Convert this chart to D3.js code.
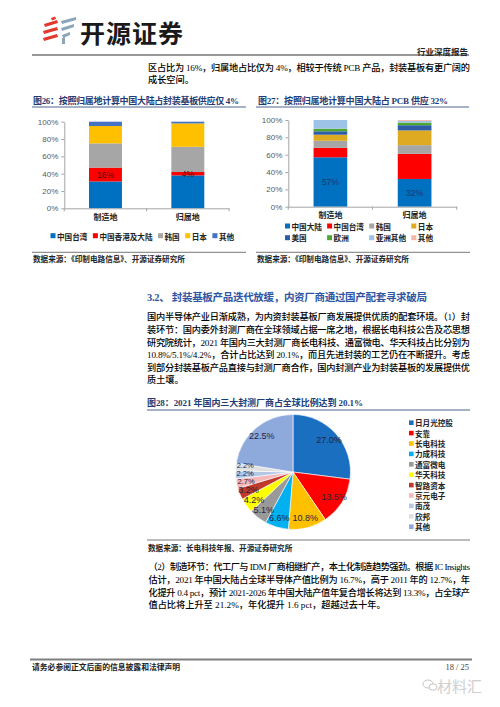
<!DOCTYPE html>
<html><head><meta charset="utf-8">
<script src="https://cdn.jsdelivr.net/npm/d3@7"></script>
<style>body{margin:0;background:#fff}svg{display:block}</style>
</head><body>
<script>
// ---------------- DATA ----------------
const fig26Categories = ["制造地", "归属地"];
const fig26Series = ["中国台湾", "中国香港及大陆", "韩国", "日本", "其他"];
const fig26Manufacture = [31, 16, 28, 20, 5];
const fig26Ownership = [38, 4, 29, 27, 2];
const fig26Labels = ["16%", "4%"];

const fig27Categories = ["制造地", "归属地"];
const fig27Series = ["中国大陆", "中国台湾", "韩国", "日本", "美国", "欧洲", "亚洲其他", "其他"];
const fig27Manufacture = [57, 11, 8, 7, 4, 3, 10, 0];
const fig27Ownership = [32, 29, 10, 17, 6, 3, 2, 1];
const fig27Labels = ["57%", "32%"];

const yTickValues = [0, 20, 40, 60, 80, 100];

const fig28Companies = ["日月光控股", "安靠", "长电科技", "力成科技", "通富微电", "华天科技", "智路资本", "京元电子", "南茂", "欣邦", "其他"];
const fig28Shares = [27.0, 13.5, 10.8, 6.6, 5.1, 4.2, 3.2, 2.7, 2.2, 2.2, 22.5];

const introLines = ["区占比为 16%，归属地占比仅为 4%，相较于传统 PCB 产品，封装基板有更广阔的", "成长空间。"];
const para1Lines = [
  "国内半导体产业日渐成熟，为内资封装基板厂商发展提供优质的配套环境。（1）封",
  "装环节：国内委外封测厂商在全球领域占据一席之地，根据长电科技公告及芯思想",
  "研究院统计，2021 年国内三大封测厂商长电科技、通富微电、华天科技占比分别为",
  "10.8%/5.1%/4.2%，合计占比达到 20.1%，而且先进封装的工艺仍在不断提升。考虑",
  "到部分封装基板产品直接与封测厂商合作，国内封测产业为封装基板的发展提供优",
  "质土壤。"
];
const para2Lines = [
  "（2）制造环节：代工厂与 IDM 厂商相继扩产，本土化制造趋势强劲。根据 IC Insights",
  "估计，2021 年中国大陆占全球半导体产值比例为 16.7%，高于 2011 年的 12.7%，年",
  "化提升 0.4 pct，预计 2021-2026 年中国大陆产值年复合增长将达到 13.3%，占全球产",
  "值占比将上升至 21.2%，年化提升 1.6 pct，超越过去十年。"
];

// ---------------- STYLES ----------------
const BODY = "'Liberation Serif','Noto Sans CJK SC',serif";
const SANS = "'Liberation Sans','Noto Sans CJK SC',sans-serif";
const CJK = "'Noto Sans CJK SC',sans-serif";
const TITLE_BLUE = "#1F3C74";
const fig26Colors = ["#0070C0", "#FF0000", "#A6A6A6", "#FFC000", "#4472C4"];
const fig27Colors = ["#0070C0", "#FF0000", "#A6A6A6", "#DDAA22", "#2E5DA8", "#4EA72E", "#9DC3E6", "#F4B6A8"];
const fig28Colors = ["#1B6FC0", "#FF0000", "#FFC000", "#00B0F0", "#999999", "#FFFF00", "#C0392B", "#F4B8B8", "#B4C7E7", "#E0E0E0", "#8EA9DB"];

const svg = d3.select("body").append("svg").attr("width", 500).attr("height", 707);

function txt(x, y, s, o = {}) {
  const t = svg.append("text").attr("x", x).attr("y", y).text(s)
    .attr("font-size", o.size || 9.2)
    .attr("font-family", o.family || BODY)
    .attr("font-weight", o.weight || "500")
    .attr("fill", o.fill || "#000")
    .attr("dominant-baseline", "central")
    .attr("text-anchor", o.anchor || "start");
  if (o.width) t.attr("textLength", o.width).attr("lengthAdjust", "spacing");
  return t;
}
function hline(x1, x2, y, c, w) {
  svg.append("line").attr("x1", x1).attr("x2", x2).attr("y1", y).attr("y2", y)
    .attr("stroke", c).attr("stroke-width", w);
}

// ---------------- HEADER ----------------
const logo = svg.append("g");
const red = "#E2392D", steel = "#8BA6BA";
[[44,24,57,20,58,23,45,27],[43,31,57,27,58,30,44,34],[43,38,57,34,58,37,44,41]].forEach(p =>
  logo.append("polygon").attr("points", p.join(",")).attr("fill", red));
logo.append("polygon").attr("points", [51,18,55,16.5,56,19,52,20.5].join(",")).attr("fill", red);
[[61,21,76,17,76,20,62,24],[61,28,74,24,74,27,62,31],[62,35,70,32,70,35,63,38]].forEach(p =>
  logo.append("polygon").attr("points", p.join(",")).attr("fill", steel));
logo.append("polygon").attr("points", [62,38,65,37,65,44,62,44].join(",")).attr("fill", steel);
txt(80, 32, "开源证券", {size: 25, family: CJK, weight: "bold", fill: "#1a1a1a", width: 103});
txt(468, 50.5, "行业深度报告", {size: 8.5, family: CJK, weight: "bold", anchor: "end", fill: "#222"});
hline(32, 469, 55, "#333", 1);

introLines.forEach((l, i) => txt(148, 67.5 + i * 12.5, l, {width: i < introLines.length - 1 ? 322 : null}));

// ---------------- STACKED BAR CHARTS ----------------
function stackedChart(cfg) {
  const rows = cfg.cats.map((c, i) => {
    const o = {cat: c};
    cfg.series.forEach((s, j) => o[s] = cfg.values[i][j]);
    return o;
  });
  const stacked = d3.stack().keys(cfg.series)(rows);
  const x = d3.scaleBand().domain(cfg.cats).range([cfg.x0, cfg.x1]).paddingInner(0.6).paddingOuter(0.3);
  const y = d3.scaleLinear().domain([0, 100]).range([cfg.yBot, cfg.yTop]);
  const g = svg.append("g");
  g.selectAll("g.layer").data(stacked).join("g").attr("fill", (d, i) => cfg.colors[i])
    .selectAll("rect").data(d => d).join("rect")
    .attr("x", d => x(d.data.cat)).attr("width", x.bandwidth())
    .attr("y", d => y(d[1])).attr("height", d => y(d[0]) - y(d[1]));
  const ya = g.append("g").attr("transform", `translate(${cfg.x0},0)`)
    .call(d3.axisLeft(y).tickValues(yTickValues).tickFormat(d => d + "%").tickSizeInner(3).tickSizeOuter(0).tickPadding(3));
  ya.selectAll("path,line").attr("stroke", "#A6A6A6");
  ya.selectAll("text").attr("font-family", SANS).attr("font-size", 8).attr("fill", "#595959");
  const xa = g.append("g").attr("transform", `translate(0,${cfg.yBot})`)
    .call(d3.axisBottom(x).tickSize(0).tickPadding(6).tickSizeOuter(0));
  xa.select("path").attr("stroke", "#A6A6A6");
  xa.selectAll("text").attr("font-family", CJK).attr("font-size", 8).attr("font-weight", "bold").attr("fill", "#222");
  const bounds = [cfg.x0, ...cfg.cats.map(c => x(c) + x.bandwidth() / 2 + x.step() / 2)];
  g.selectAll("line.bt").data(bounds).join("line").attr("class", "bt")
    .attr("x1", d => d).attr("x2", d => d).attr("y1", cfg.yBot).attr("y2", cfg.yBot + 3).attr("stroke", "#A6A6A6");
  cfg.cats.forEach((c, i) => {
    const seg = stacked[cfg.labelIdx][i];
    g.append("text").attr("x", x(c) + x.bandwidth() / 2).attr("y", y((seg[0] + seg[1]) / 2))
      .attr("text-anchor", "middle").attr("dominant-baseline", "central")
      .attr("font-family", SANS).attr("font-size", 8.5).attr("fill", cfg.labelFill).text(cfg.labels[i]);
  });
  return {x, y};
}

// Figure 26
txt(33, 101, "图26：按照归属地计算中国大陆占封装基板供应仅 4%", {size: 9, weight: "bold", fill: TITLE_BLUE, width: 206});
hline(32, 246, 107, "#1F3C74", 0.8);
stackedChart({cats: fig26Categories, series: fig26Series, values: [fig26Manufacture, fig26Ownership],
  x0: 64.3, x1: 229, yTop: 121.7, yBot: 208.3, colors: fig26Colors, labelIdx: 1, labels: fig26Labels, labelFill: "#3a1010"});
(function () {
  let cx = 50.5;
  fig26Series.forEach((s, i) => {
    svg.append("rect").attr("x", cx).attr("y", 233.2).attr("width", 5).attr("height", 5).attr("fill", fig26Colors[i]);
    const t = txt(cx + 6.5, 236, s, {size: 7.6, family: CJK, weight: "bold", fill: "#222"});
    cx += 6.5 + t.node().getComputedTextLength() + 5.5;
  });
})();
hline(32, 246, 252.3, "#555", 0.8);
txt(33, 258.5, "数据来源：《印制电路信息》、开源证券研究所", {size: 7.6, family: CJK, weight: "bold", fill: "#222"});

// Figure 27
txt(258, 101, "图27：按照归属地计算中国大陆占 PCB 供应 32%", {size: 9, weight: "bold", fill: TITLE_BLUE, width: 190});
hline(256, 469, 107, "#1F3C74", 0.8);
stackedChart({cats: fig27Categories, series: fig27Series, values: [fig27Manufacture, fig27Ownership],
  x0: 288.3, x1: 456.7, yTop: 120, yBot: 206.7, colors: fig27Colors, labelIdx: 0, labels: fig27Labels, labelFill: "#1F3864"});
fig27Series.forEach((s, i) => {
  const col = i % 4, row = Math.floor(i / 4);
  const lx = 285 + col * 42.1, ly = 226 + row * 11.7;
  svg.append("rect").attr("x", lx).attr("y", ly - 2.5).attr("width", 5).attr("height", 5).attr("fill", fig27Colors[i]);
  txt(lx + 6.5, ly, s, {size: 7.6, family: CJK, weight: "bold", fill: "#222"});
});
hline(256, 470, 252.3, "#555", 0.8);
txt(257, 258.5, "数据来源：《印制电路信息》、开源证券研究所", {size: 7.6, family: CJK, weight: "bold", fill: "#222"});

// ---------------- SECTION TEXT ----------------
txt(147, 297, "3.2、 封装基板产品迭代放缓，内资厂商通过国产配套寻求破局", {size: 10.5, weight: "bold", fill: "#2E55A3", width: 280});
para1Lines.forEach((l, i) => txt(147, 317.3 + i * 12.6, l, {width: i < para1Lines.length - 1 ? 323 : null}));

// ---------------- PIE (Figure 28) ----------------
txt(147, 403.3, "图28：2021 年国内三大封测厂商占全球比例达到 20.1%", {size: 9, weight: "bold", fill: TITLE_BLUE, width: 216});
hline(147, 470, 410, "#1F3C74", 0.8);
(function () {
  const cx = 293, cy = 472, r = 57.5;
  const pie = d3.pie().sort(null).value(d => d)(fig28Shares);
  const arc = d3.arc().innerRadius(0).outerRadius(r);
  const lab = d3.arc().innerRadius(48).outerRadius(48);
  const g = svg.append("g").attr("transform", `translate(${cx},${cy})`);
  g.selectAll("path").data(pie).join("path").attr("d", arc)
    .attr("fill", (d, i) => fig28Colors[i]).attr("stroke", "#fff").attr("stroke-width", 0.6);
  // label positions from arc centroids, with small labels nudged apart vertically
  const pos = pie.map(d => lab.centroid(d));
  const small = pie.map((d, i) => i).filter(i => pie[i].data < 3).sort((a, b) => pos[b][1] - pos[a][1]);
  for (let k = 1; k < small.length; k++) {
    const prev = pos[small[k - 1]], cur = pos[small[k]];
    if (prev[1] - cur[1] < 8.2) cur[1] = prev[1] - 8.2;
  }
  g.selectAll("text").data(pie).join("text")
    .attr("transform", (d, i) => `translate(${pos[i]})`)
    .attr("text-anchor", "middle").attr("dominant-baseline", "central")
    .attr("font-family", SANS).attr("font-size", d => d.data < 3 ? 7.5 : 9).attr("fill", "#1c2540")
    .text(d => d.data.toFixed(1) + "%");
  fig28Companies.forEach((c, i) => {
    const ly = 422.7 + i * 10.4;
    svg.append("rect").attr("x", 409).attr("y", ly - 2.3).attr("width", 4.6).attr("height", 4.6).attr("fill", fig28Colors[i]);
    txt(415, ly, c, {size: 7.6, family: CJK, weight: "bold", fill: "#222"});
  });
})();
hline(147, 470, 540, "#555", 0.8);
txt(148, 547.7, "数据来源：长电科技年报、开源证券研究所", {size: 7.6, family: CJK, weight: "bold", fill: "#222"});

para2Lines.forEach((l, i) => txt(148.5, 567.3 + i * 12.6, l, {width: i < para2Lines.length - 1 ? 321.5 : null}));

// ---------------- FOOTER ----------------
hline(30, 472, 659.5, "#7f7f7f", 2);
txt(32, 666.5, "请务必参阅正文后面的信息披露和法律声明", {size: 7.8, family: CJK, weight: "bold", fill: "#222"});
txt(469, 666.5, "18 / 25", {size: 8.5, family: "'Liberation Serif',serif", anchor: "end", fill: "#444", weight: "normal"});
svg.append("ellipse").attr("cx", 428).attr("cy", 684).attr("rx", 5).attr("ry", 4).attr("fill", "none").attr("stroke", "#c4c4c4").attr("stroke-width", 1);
svg.append("ellipse").attr("cx", 433).attr("cy", 687).attr("rx", 4).attr("ry", 3.2).attr("fill", "#fff").attr("stroke", "#c4c4c4").attr("stroke-width", 1);
txt(437, 685.5, "材料汇", {size: 15, family: CJK, fill: "#cfcfcf", weight: "normal"});
</script>
</body></html>
